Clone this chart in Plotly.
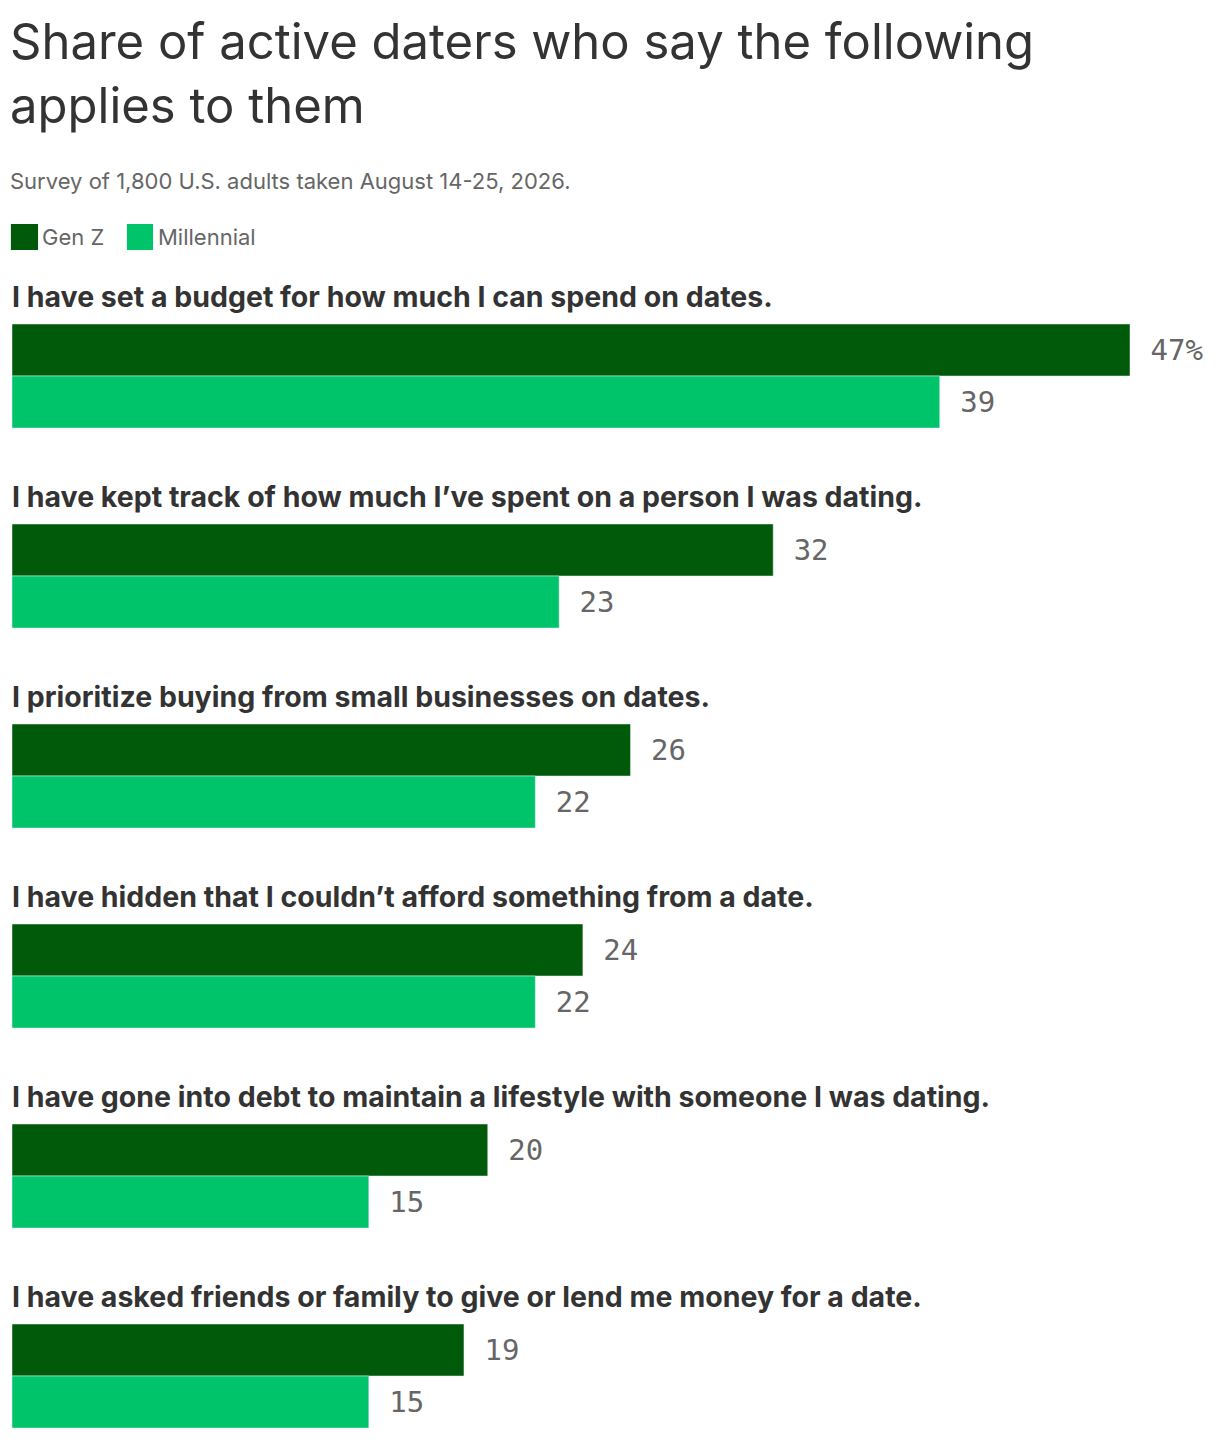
import plotly.graph_objects as go

categories = [
    "I have set a budget for how much I can spend on dates.",
    "I have kept track of how much I’ve spent on a person I was dating.",
    "I prioritize buying from small businesses on dates.",
    "I have hidden that I couldn’t afford something from a date.",
    "I have gone into debt to maintain a lifestyle with someone I was dating.",
    "I have asked friends or family to give or lend me money for a date.",
]
genz = [47, 32, 26, 24, 20, 19]
millennial = [39, 23, 22, 22, 15, 15]

DARK = "#005a09"
LIGHT = "#00c46a"
W, H = 1220, 1440
GROUP = 200
BAR = 52
FIRST = 350

yz = [FIRST + GROUP * i for i in range(len(categories))]
ym = [y + BAR for y in yz]

def labels(vals, first_pct):
    return [(" " + f"{v}%") if (i == 0 and first_pct) else " " + str(v) for i, v in enumerate(vals)]

fig = go.Figure()
tf = dict(family="DejaVu Sans Mono, monospace", size=29, color="#666")
fig.add_trace(go.Bar(x=genz, y=yz, orientation="h", width=BAR, marker_color=DARK,
                     text=labels(genz, True), textposition="outside", textfont=tf,
                     cliponaxis=False, name="Gen Z", hoverinfo="skip"))
fig.add_trace(go.Bar(x=millennial, y=ym, orientation="h", width=BAR, marker_color=LIGHT,
                     text=labels(millennial, False), textposition="outside", textfont=tf,
                     cliponaxis=False, name="Millennial", hoverinfo="skip"))

ann = []
font = "Inter, Lato, sans-serif"
for i, c in enumerate(categories):
    ann.append(dict(text=f"<b>{c}</b>", x=0, xref="paper", y=yz[i] - 54, yref="y",
                    xanchor="left", yanchor="middle", showarrow=False,
                    font=dict(family=font, size=28.5, color="#333"), xshift=-2))
ann.append(dict(text="Share of active daters who say the following<br>applies to them",
                x=0, xref="paper", y=10, yref="y", xanchor="left", yanchor="top",
                align="left", showarrow=False,
                font=dict(family=font, size=49, color="#333"), xshift=-4))
ann.append(dict(text="Survey of 1,800 U.S. adults taken August 14-25, 2026.", x=0, xref="paper",
                y=181, yref="y", xanchor="left", yanchor="middle", showarrow=False,
                font=dict(family=font, size=22, color="#666"), xshift=-4))
ann.append(dict(text="Gen Z", x=0, xref="paper", y=237, yref="y", xanchor="left",
                yanchor="middle", showarrow=False, xshift=28,
                font=dict(family=font, size=22, color="#666")))
ann.append(dict(text="Millennial", x=0, xref="paper", y=237, yref="y", xanchor="left",
                yanchor="middle", showarrow=False, xshift=144,
                font=dict(family=font, size=22, color="#666")))

shapes = [
    dict(type="rect", xref="paper", yref="y", x0=-0.001, x1=0.0233, y0=224, y1=250,
         fillcolor=DARK, line_width=0),
    dict(type="rect", xref="paper", yref="y", x0=0.1028, x1=0.1261, y0=224, y1=250,
         fillcolor=LIGHT, line_width=0),
]

fig.update_layout(
    width=W, height=H, margin=dict(l=4, r=98, t=0, b=0),
    plot_bgcolor="white", paper_bgcolor="white", showlegend=False, barmode="overlay",
    xaxis=dict(range=[0, 47], visible=False, fixedrange=True),
    yaxis=dict(range=[H + 8, 8], visible=False, fixedrange=True),
    annotations=ann, shapes=shapes,
)
fig.write_html("out.html")
